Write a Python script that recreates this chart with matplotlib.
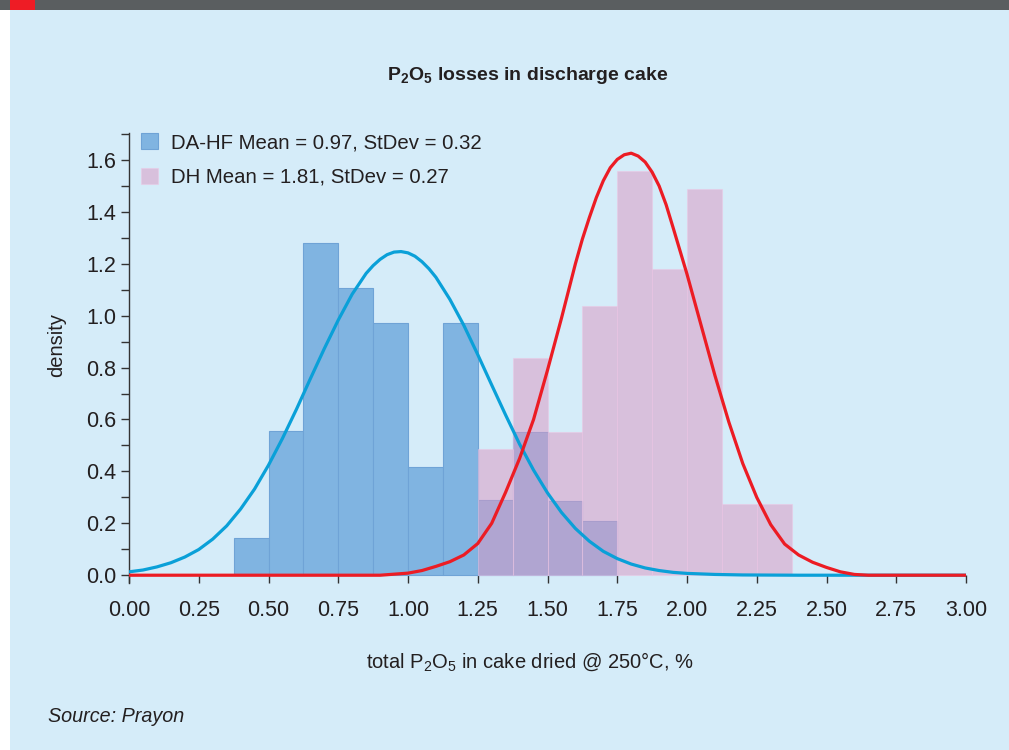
import matplotlib
matplotlib.use("Agg")
import matplotlib.pyplot as plt
from matplotlib.patches import Rectangle
from matplotlib.ticker import MultipleLocator, FormatStrFormatter

# ── data ──────────────────────────────────────────────────────────────────────
bin_w = 0.125

dahf_left = [0.375, 0.5, 0.625, 0.75, 0.875, 1.0, 1.125, 1.25, 1.375, 1.5, 1.625]
dahf_density = [0.143, 0.555, 1.279, 1.105, 0.970, 0.418, 0.970, 0.289, 0.550, 0.285, 0.208]

dh_left = [1.25, 1.375, 1.5, 1.625, 1.75, 1.875, 2.0, 2.125, 2.25]
dh_density = [0.486, 0.835, 0.550, 1.038, 1.559, 1.180, 1.488, 0.276, 0.276]

# fitted curves
dahf_fit_x = [0.00, 0.05, 0.10, 0.15, 0.20, 0.25, 0.30, 0.35, 0.40, 0.45,
              0.50, 0.55, 0.60, 0.65, 0.70, 0.75, 0.80, 0.85, 0.875, 0.90,
              0.925, 0.95, 0.975, 1.00, 1.025, 1.05, 1.075, 1.10, 1.15, 1.20,
              1.25, 1.30, 1.35, 1.40, 1.45, 1.50, 1.55, 1.60, 1.65, 1.70,
              1.75, 1.80, 1.85, 1.90, 1.95, 2.00, 2.10, 2.20, 2.40, 3.00]
dahf_fit_y = [0.013, 0.020, 0.032, 0.048, 0.070, 0.099, 0.139, 0.190, 0.255, 0.332,
              0.424, 0.527, 0.639, 0.757, 0.873, 0.983, 1.083, 1.163, 1.193, 1.217,
              1.235, 1.245, 1.247, 1.242, 1.229, 1.208, 1.181, 1.148, 1.063, 0.963,
              0.850, 0.733, 0.617, 0.505, 0.405, 0.317, 0.242, 0.180, 0.131, 0.092,
              0.064, 0.043, 0.028, 0.018, 0.011, 0.007, 0.003, 0.001, 0.000, 0.000]

dh_fit_x = [0.00, 0.90, 1.00, 1.05, 1.10, 1.15, 1.20, 1.25, 1.30, 1.35,
            1.40, 1.45, 1.50, 1.55, 1.60, 1.625, 1.65, 1.675, 1.70, 1.725,
            1.75, 1.775, 1.80, 1.825, 1.85, 1.875, 1.90, 1.925, 1.95, 1.975,
            2.00, 2.05, 2.10, 2.15, 2.20, 2.25, 2.30, 2.35, 2.40, 2.45,
            2.50, 2.55, 2.60, 2.65, 3.00]
dh_fit_y = [0.000, 0.000, 0.008, 0.018, 0.034, 0.052, 0.078, 0.122, 0.200, 0.320,
            0.450, 0.600, 0.790, 0.990, 1.200, 1.295, 1.378, 1.455, 1.520, 1.570,
            1.602, 1.620, 1.626, 1.615, 1.592, 1.553, 1.500, 1.428, 1.340, 1.250,
            1.160, 0.965, 0.770, 0.590, 0.430, 0.300, 0.195, 0.120, 0.078, 0.050,
            0.030, 0.013, 0.003, 0.000, 0.000]

labels = ["DA-HF Mean = 0.97, StDev = 0.32", "DH Mean = 1.81, StDev = 0.27"]

# ── style ─────────────────────────────────────────────────────────────────────
BG = "#d5ecf9"
TXT = "#231f20"
plt.rcParams["font.family"] = ["Liberation Sans", "DejaVu Sans"]
plt.rcParams["mathtext.fontset"] = "custom"
plt.rcParams["mathtext.rm"] = "Liberation Sans"
plt.rcParams["mathtext.bf"] = "Liberation Sans:bold"

W, H = 1009, 750
fig = plt.figure(figsize=(W / 100, H / 100), dpi=100, facecolor=BG)

# header strip
fig.patches.append(Rectangle((0, 0), 10 / W, 1, transform=fig.transFigure,
                             facecolor="white", edgecolor="none", zorder=0))
fig.patches.append(Rectangle((0, 1 - 10 / H), 1, 10 / H, transform=fig.transFigure,
                             facecolor="#5a5e60", edgecolor="none", zorder=1))
fig.patches.append(Rectangle((10 / W, 1 - 10 / H), 25 / W, 10 / H, transform=fig.transFigure,
                             facecolor="#ee1c25", edgecolor="none", zorder=2))

ax = fig.add_axes([129 / W, 167 / H, 837 / W, 450.3 / H])
ax.set_facecolor("none")

b1 = ax.bar(dahf_left, dahf_density, width=bin_w, align="edge",
            color="#80b4e1", edgecolor="#6fa3d6", linewidth=0.8, zorder=2)
b2 = ax.bar(dh_left, dh_density, width=bin_w, align="edge",
            color=(220 / 255, 153 / 255, 196 / 255), alpha=0.53,
            edgecolor=(235 / 255, 200 / 255, 230 / 255), linewidth=0.8, zorder=3)

ax.plot(dahf_fit_x, dahf_fit_y, color="#0aa0d8", lw=2.3, zorder=4,
        solid_capstyle="round", solid_joinstyle="round")
ax.plot(dh_fit_x, dh_fit_y, color="#ec1c24", lw=2.3, zorder=5,
        solid_capstyle="round", solid_joinstyle="round")

ax.set_xlim(0, 3.0)
ax.set_ylim(-0.03, 1.705)

for s in ["top", "right", "bottom"]:
    ax.spines[s].set_visible(False)
ax.spines["left"].set_color("#333333")
ax.spines["left"].set_linewidth(1.0)

ax.xaxis.set_major_locator(MultipleLocator(0.25))
ax.xaxis.set_major_formatter(FormatStrFormatter("%.2f"))
ax.yaxis.set_major_locator(MultipleLocator(0.2))
ax.yaxis.set_minor_locator(MultipleLocator(0.1))
ax.yaxis.set_major_formatter(FormatStrFormatter("%.1f"))

ax.tick_params(axis="y", which="both", direction="out", length=5.8, width=1,
               color="#333333", labelcolor=TXT, labelsize=15.5, pad=3.5)
ax.tick_params(axis="x", which="major", direction="in", length=5.8, width=1,
               color="#333333", labelcolor=TXT, labelsize=15.5, pad=12)

leg = ax.legend([b1, b2], labels, loc="upper left",
                bbox_to_anchor=(141 / W, 1 - 133 / H), bbox_transform=fig.transFigure,
                frameon=False, fontsize=14.7, handlelength=0.85, handleheight=0.85,
                handletextpad=0.6, labelspacing=0.75, borderpad=0, borderaxespad=0)
for t in leg.get_texts():
    t.set_color(TXT)

fig.text(528 / W, 1 - 75 / H, r"P$_\mathbf{2}$O$_\mathbf{5}$ losses in discharge cake",
         ha="center", va="center", fontsize=14, fontweight="bold", color=TXT)
fig.text(530 / W, 1 - 662 / H, r"total P$_2$O$_5$ in cake dried @ 250°C, %",
         ha="center", va="center", fontsize=14.5, color=TXT)
fig.text(57 / W, 1 - 345 / H, "density", rotation=90,
         ha="center", va="center", fontsize=14.5, color=TXT)
fig.text(48 / W, 1 - 716 / H, "Source: Prayon", ha="left", va="center",
         fontsize=14.2, fontstyle="italic", color=TXT)

fig.savefig("out.png", dpi=100, facecolor=BG)
